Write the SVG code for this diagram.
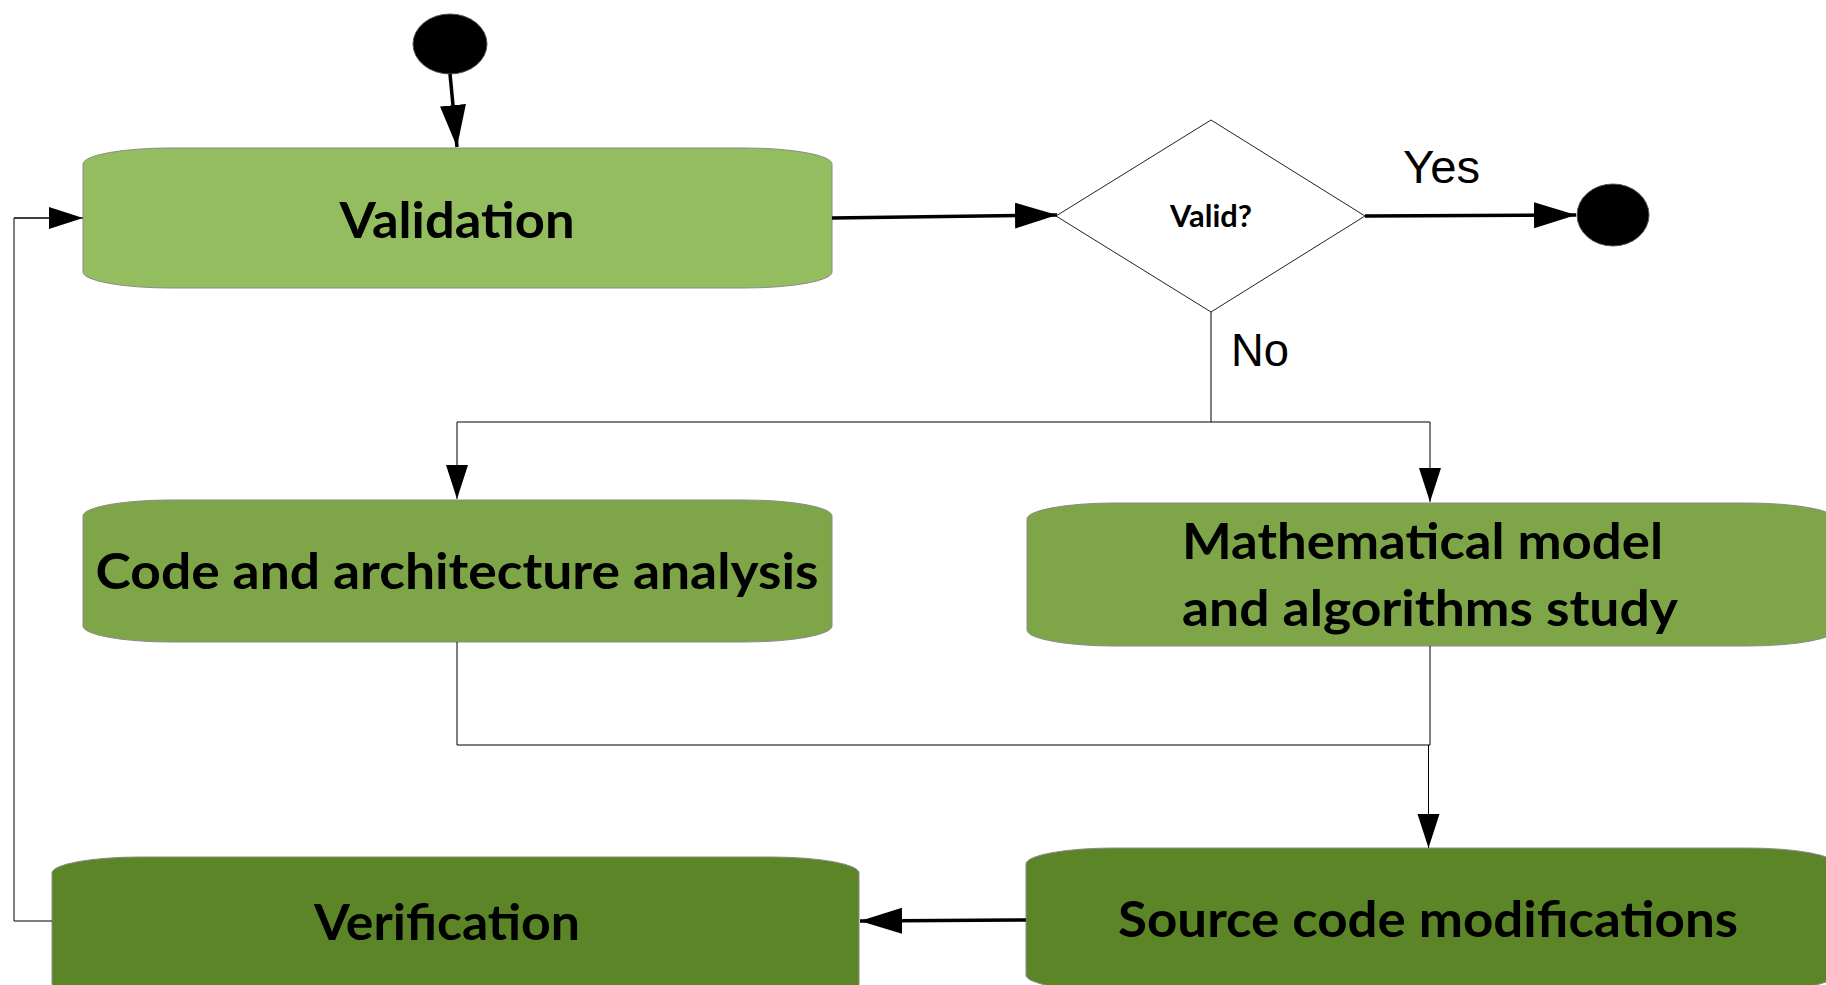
<svg xmlns="http://www.w3.org/2000/svg" width="1826" height="985" viewBox="0 0 1826 985">
<style>
.node-light{fill:#93bd5f;stroke:#8a8a8a;stroke-width:1}
.node-mid{fill:#7ea649;stroke:#8a8a8a;stroke-width:1}
.node-dark{fill:#5c8528;stroke:#8a8a8a;stroke-width:1}
.lbl{font-family:Lato,"Open Sans",sans-serif;font-weight:bold;fill:#000}
.edge-lbl{font-family:"Liberation Sans",Arial,sans-serif;fill:#000}
.thick{fill:none;stroke:#000;stroke-width:3.5}
.thin{fill:none;stroke:#000;stroke-width:1}
.dot{fill:#000;stroke:#555;stroke-width:1}
</style>
<defs>
<marker id="big" markerUnits="userSpaceOnUse" markerWidth="44" markerHeight="28" refX="42" refY="13" orient="auto">
<path d="M0,0 L42,13 L0,26 z" fill="#000"/>
</marker>
<marker id="small" markerUnits="userSpaceOnUse" markerWidth="36" markerHeight="24" refX="34" refY="11" orient="auto">
<path d="M0,0 L34,11 L0,22 z" fill="#000"/>
</marker>
</defs>
<g id="start"><ellipse class="dot" cx="450" cy="44" rx="37" ry="30"/></g>
<g id="end"><ellipse class="dot" cx="1613" cy="215" rx="36" ry="31"/></g>
<g id="validation">
<rect class="node-light" x="83" y="148" width="749" height="140" rx="88" ry="16"/>
<text class="lbl" x="457" y="238" font-size="50" text-anchor="middle" textLength="235" lengthAdjust="spacingAndGlyphs">Validation</text>
</g>
<g id="decision">
<polygon points="1056,216 1211,120 1365,216 1211,312" fill="#fff" stroke="#222" stroke-width="1"/>
<text class="lbl" x="1211" y="227" font-size="30" text-anchor="middle" textLength="82" lengthAdjust="spacingAndGlyphs">Valid?</text>
</g>
<g id="code-analysis">
<rect class="node-mid" x="83" y="500" width="749" height="142" rx="88" ry="16"/>
<text class="lbl" x="457" y="589" font-size="50" text-anchor="middle" textLength="723" lengthAdjust="spacingAndGlyphs">Code and architecture analysis</text>
</g>
<g id="math-study">
<rect class="node-mid" x="1027" y="503" width="808" height="143" rx="88" ry="16"/>
<text class="lbl" x="1182" y="559" font-size="50" textLength="481" lengthAdjust="spacingAndGlyphs">Mathematical model</text>
<text class="lbl" x="1182" y="626" font-size="50" textLength="496" lengthAdjust="spacingAndGlyphs">and algorithms study</text>
</g>
<g id="source-mods">
<rect class="node-dark" x="1026" y="848" width="809" height="143" rx="88" ry="16"/>
<text class="lbl" x="1428" y="937" font-size="50" text-anchor="middle" textLength="620" lengthAdjust="spacingAndGlyphs">Source code modifications</text>
</g>
<g id="verification">
<rect class="node-dark" x="52" y="857" width="807" height="143" rx="88" ry="16"/>
<text class="lbl" x="447" y="940" font-size="50" text-anchor="middle" textLength="266" lengthAdjust="spacingAndGlyphs">Verification</text>
</g>
<g id="connectors">
<line class="thick" x1="450" y1="74" x2="457" y2="147" marker-end="url(#big)"/>
<line class="thick" x1="832" y1="218" x2="1057" y2="215" marker-end="url(#big)"/>
<line class="thick" x1="1365" y1="216" x2="1576" y2="215" marker-end="url(#big)"/>
<text class="edge-lbl" x="1403" y="183" font-size="47" textLength="77" lengthAdjust="spacingAndGlyphs">Yes</text>
<polyline class="thin" points="1211,312 1211,422"/>
<text class="edge-lbl" x="1231" y="366" font-size="47" textLength="58" lengthAdjust="spacingAndGlyphs">No</text>
<polyline class="thin" points="457,422 1430,422"/>
<line class="thin" x1="457" y1="422" x2="457" y2="499" marker-end="url(#small)"/>
<line class="thin" x1="1430" y1="422" x2="1430" y2="502" marker-end="url(#small)"/>
<polyline class="thin" points="457,642 457,745 1430,745 1430,646"/>
<line class="thin" x1="1428.5" y1="745" x2="1428.5" y2="848" marker-end="url(#small)"/>
<line class="thick" x1="1026" y1="920" x2="860" y2="921" marker-end="url(#big)"/>
<polyline class="thin" points="52,921 14,921 14,218 50,218"/>
<line class="thin" x1="14" y1="218" x2="83" y2="218" marker-end="url(#small)"/>
</g>
</svg>
